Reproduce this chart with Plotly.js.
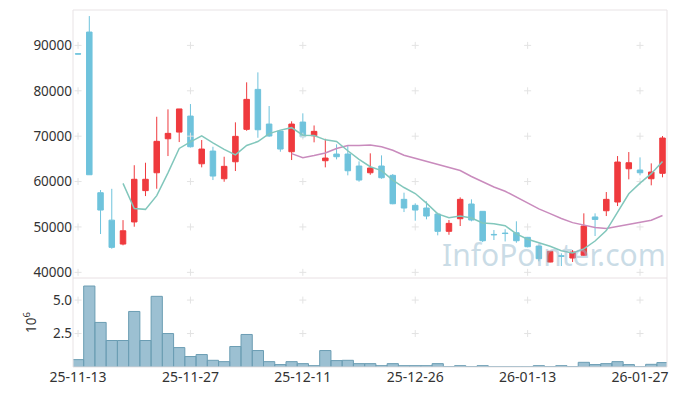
<!DOCTYPE html>
<html>
<head>
<meta charset="utf-8">
<script src="https://cdn.plot.ly/plotly-3.0.1.min.js"></script>
<style>html,body{margin:0;padding:0;background:#fff;}#chart{width:680px;height:396px;}</style>
</head>
<body>
<div id="chart"></div>
<script>
const dates = ['25-11-13','25-11-14','25-11-17','25-11-18','25-11-19','25-11-20','25-11-21','25-11-24','25-11-25','25-11-26',
'25-11-27','25-11-28','25-12-01','25-12-02','25-12-03','25-12-04','25-12-05','25-12-08','25-12-09','25-12-10',
'25-12-11','25-12-12','25-12-15','25-12-16','25-12-17','25-12-18','25-12-19','25-12-22','25-12-23','25-12-24',
'25-12-26','25-12-29','25-12-30','26-01-02','26-01-05','26-01-06','26-01-07','26-01-08','26-01-09','26-01-12',
'26-01-13','26-01-14','26-01-15','26-01-16','26-01-19','26-01-20','26-01-21','26-01-22','26-01-23','26-01-26',
'26-01-27','26-01-28','26-01-29'];

const openP = [88150,92940,57540,51500,46230,51100,58000,61940,69430,70900,
74430,63920,66720,60620,64360,71500,80310,72670,71130,66570,
73110,70090,64590,66060,66060,63420,61940,63420,61370,56080,
54760,54170,52840,49030,51810,55050,53440,48350,48650,48720,
47710,45790,42270,43650,43150,43750,52200,53570,55490,62820,
62540,60620,61810];
const highP = [88150,96460,58130,58400,51500,63600,64150,74280,75910,76000,
77080,69150,67670,65470,73050,81860,84060,76640,71200,73270,
75030,72360,69430,68200,67890,64450,66220,65770,61660,57550,
55200,55640,53130,51520,56520,56080,53440,49320,49500,51240,
47800,45900,44700,44190,44910,53000,53000,57690,65620,66500,
65330,64010,70030];
const lowP = [88100,61500,48440,45200,45950,50050,56800,58420,65620,68700,
67500,63130,60330,59960,62320,71190,69650,69870,66570,64740,
69520,68640,63130,64890,61370,59960,61500,60620,55000,53280,
51370,51680,48150,48280,50200,51240,46680,47120,46800,46520,
45500,42420,42200,41390,42280,43600,48000,52400,54610,60490,
61370,59170,60930];
const closeP = [88100,61500,53720,45500,49160,60500,60500,68860,70620,76000,
67670,67160,61210,63350,69960,78110,71410,70030,67160,72670,
69870,71060,65180,65470,62380,60330,62980,60840,55110,54170,
53720,52400,49030,50790,56080,51520,46960,48280,48550,46960,
45640,43000,44630,43550,44470,50200,51650,56080,64300,64150,
61940,62100,69590];
const volume = [550000,6050000,3330000,1980000,1980000,4150000,1980000,5280000,2500000,1450000,
780000,930000,500000,400000,1530000,2430000,1230000,400000,180000,400000,
250000,100000,1230000,480000,500000,250000,250000,100000,250000,100000,
100000,100000,250000,30000,100000,30000,100000,20000,20000,20000,
20000,100000,30000,100000,30000,350000,180000,250000,400000,180000,
20000,200000,330000];
const ma5 = [null,null,null,null,59596,54076,53876,56904,61928,67296,
68730,70062,68532,67078,65870,67958,68808,70572,71334,71876,
70228,70158,69188,68850,66792,64884,63268,62400,60328,58686,
57364,55248,52886,52022,52404,51964,50876,50726,50278,48454,
47278,46486,45756,44756,44258,45170,46900,49210,53360,57296,
59644,61734,64436];
const ma20 = [null,null,null,null,null,null,null,null,null,null,
null,null,null,null,null,null,null,null,null,66160,
65248,65726,66299,67298,67959,67950,68074,67673,66898,65806,
65109,64371,63762,63134,62440,61110,59888,58800,57870,56584,
55373,53970,52942,51846,50951,50444,49878,49640,50099,50598,
51009,51494,52522];

const xTickIdx = [0,10,20,30,40,50];
const xTicks = xTickIdx.map(i => dates[i]);
const priceTicks = [40000,50000,60000,70000,80000,90000];
const volTicks = [2500000,5000000];
const volTickText = ['2.5','5.0'];

const FONT = 'Noto Sans, DejaVu Sans, sans-serif';
const gridX = [], gridY = [], gridX2 = [], gridY2 = [];
xTicks.forEach(x => { priceTicks.forEach(y => { gridX.push(x); gridY.push(y); }); volTicks.forEach(y => { gridX2.push(x); gridY2.push(y); }); });

const crossStyle = {symbol:'cross-thin', size:5, line:{color:'#e3e3e3', width:1}, color:'#e3e3e3'};

const traces = [
  {type:'bar', x:dates, y:volume, xaxis:'x', yaxis:'y2',
   marker:{color:'rgba(122,170,194,0.74)', line:{color:'#6b9db3', width:1}}, hoverinfo:'skip'},
  {type:'scatter', mode:'markers', x:gridX, y:gridY, xaxis:'x', yaxis:'y', marker:crossStyle, hoverinfo:'skip'},
  {type:'scatter', mode:'markers', x:gridX2, y:gridY2, xaxis:'x', yaxis:'y2', marker:crossStyle, hoverinfo:'skip'},
  {type:'scatter', mode:'lines', x:dates, y:ma20, xaxis:'x', yaxis:'y',
   line:{color:'#c98bbd', width:1.5}, hoverinfo:'skip'},
  {type:'scatter', mode:'lines', x:dates, y:ma5, xaxis:'x', yaxis:'y',
   line:{color:'#82c7bc', width:1.5}, hoverinfo:'skip'},
  {type:'candlestick', x:dates, open:openP, high:highP, low:lowP, close:closeP, xaxis:'x', yaxis:'y',
   increasing:{line:{color:'#ef3a3e', width:1}, fillcolor:'#ef3a3e'},
   decreasing:{line:{color:'#6fc3dc', width:1}, fillcolor:'#6fc3dc'},
   whiskerwidth:0, hoverinfo:'skip'}
];

const split = 89/357;
const layout = {
  width:680, height:396,
  margin:{l:73, r:13, t:10, b:29},
  paper_bgcolor:'#fff', plot_bgcolor:'#fff',
  showlegend:false, bargap:0,
  font:{family:FONT, size:13, color:'#333'},
  xaxis:{type:'category', categoryorder:'array', categoryarray:dates, anchor:'y2', domain:[0,1], range:[-0.45,52.4],
    tickmode:'array', tickvals:xTicks, ticktext:xTicks, tickangle:0, showgrid:false, zeroline:false, ticks:'',
    rangeslider:{visible:false}, tickfont:{size:14, color:'#333'}},
  yaxis:{domain:[split,1], anchor:'x', range:[38750,97800], tickmode:'array', tickvals:priceTicks,
    tickformat:'d', showgrid:false, zeroline:false, ticks:'', tickfont:{size:13.5, color:'#333'}},
  yaxis2:{domain:[0,split], anchor:'x', range:[0,6650000], tickmode:'array', tickvals:volTicks, ticktext:volTickText,
    showgrid:false, zeroline:false, ticks:'', tickfont:{size:13.5, color:'#333'},
    title:{text:'10<sup>6</sup>', font:{size:13.5, color:'#333'}}},
  shapes:[
    {type:'rect', xref:'paper', yref:'paper', x0:0, x1:1, y0:0, y1:1, line:{color:'#e8e3e5', width:1}},
    {type:'line', xref:'paper', yref:'paper', x0:0, x1:1, y0:split, y1:split, line:{color:'#e8e0e3', width:1}}
  ],
  annotations:[
    {text:'InfoPointer.com', xref:'paper', yref:'paper', x:0.81, y:0.314, xanchor:'center', yanchor:'middle',
     showarrow:false, font:{family:FONT, size:30, color:'rgba(150,186,206,0.5)'}}
  ]
};

Plotly.newPlot('chart', traces, layout, {displayModeBar:false, staticPlot:true});
</script>
</body>
</html>
